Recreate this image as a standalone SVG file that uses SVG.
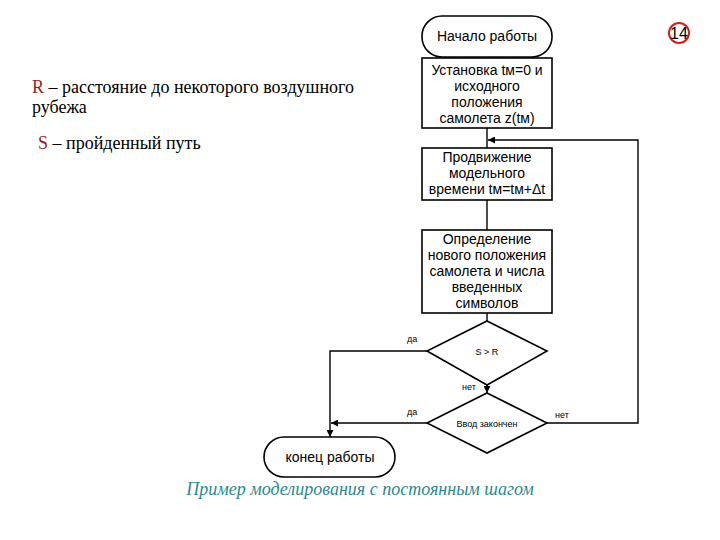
<svg xmlns="http://www.w3.org/2000/svg" width="720" height="540" viewBox="0 0 720 540">
<defs>
<style>
.box{fill:#fff;stroke:#000;stroke-width:1.6}
.t{font-family:"Liberation Sans",Arial,sans-serif;font-size:14px;fill:#000;text-anchor:middle}
.s{font-family:"Liberation Sans",Arial,sans-serif;font-size:9px;fill:#000}
.ln{fill:none;stroke:#000;stroke-width:1.4}
.ser{font-family:"Liberation Serif","Times New Roman",serif;font-size:18px;fill:#000}
.red{fill:#9b1c1c}
</style>
<marker id="ah" viewBox="0 0 10 10" refX="10" refY="5" markerWidth="7" markerHeight="7" orient="auto" markerUnits="userSpaceOnUse">
<path d="M0,0 L10,5 L0,10 z" fill="#000"/>
</marker>
</defs>
<rect width="720" height="540" fill="#fff"/>

<g id="legend">
<text class="ser" x="32" y="93"><tspan class="red">R</tspan> – расстояние до некоторого воздушного</text>
<text class="ser" x="32" y="113">рубежа</text>
<text class="ser" x="38" y="149"><tspan class="red">S</tspan> – пройденный путь</text>
</g>

<g id="pagenum">
<circle cx="679" cy="33" r="10" fill="none" stroke="#d21f1f" stroke-width="2"/>
<text x="679" y="39" font-family="Liberation Sans,Arial,sans-serif" font-size="16" text-anchor="middle" fill="#000">14</text>
</g>

<g id="connectors">
<line class="ln" x1="487" y1="128" x2="487" y2="148"/>
<line class="ln" x1="487" y1="200" x2="487" y2="230"/>
<line class="ln" x1="487" y1="313" x2="487" y2="321"/>
<line class="ln" x1="487" y1="385" x2="487" y2="393" marker-end="url(#ah)"/>
<polyline class="ln" points="427,351 330,351 330,437" marker-end="url(#ah)"/>
<line class="ln" x1="427" y1="423" x2="331" y2="423" marker-end="url(#ah)"/>
<polyline class="ln" points="547,423 638,423 638,140 488,140" marker-end="url(#ah)"/>
<text class="s" x="407" y="342">да</text>
<text class="s" x="407" y="415">да</text>
<text class="s" x="462" y="390">нет</text>
<text class="s" x="555" y="418">нет</text>
</g>

<g id="start">
<rect class="box" x="422" y="16" width="130" height="41" rx="20" ry="20"/>
<text class="t" x="487" y="41">Начало работы</text>
</g>

<g id="init">
<rect class="box" x="422" y="58" width="130" height="70"/>
<text class="t" x="487" y="75">Установка tм=0 и</text>
<text class="t" x="487" y="91">исходного</text>
<text class="t" x="487" y="107">положения</text>
<text class="t" x="487" y="123">самолета z(tм)</text>
</g>

<g id="advance">
<rect class="box" x="422" y="148" width="130" height="52"/>
<text class="t" x="487" y="162">Продвижение</text>
<text class="t" x="487" y="178">модельного</text>
<text class="t" x="487" y="194">времени tм=tм+Δt</text>
</g>

<g id="determine">
<rect class="box" x="422" y="230" width="130" height="83"/>
<text class="t" x="487" y="244">Определение</text>
<text class="t" x="487" y="260">нового положения</text>
<text class="t" x="487" y="276">самолета и числа</text>
<text class="t" x="487" y="292">введенных</text>
<text class="t" x="487" y="308">символов</text>
</g>

<g id="cond1">
<polygon class="box" points="487,321 547,351 487,385 427,351"/>
<text class="s" x="487" y="355" text-anchor="middle">S &gt; R</text>
</g>

<g id="cond2">
<polygon class="box" points="487,393 547,423 487,453 427,423"/>
<text class="s" x="487" y="427" text-anchor="middle">Ввод закончен</text>
</g>

<g id="end">
<rect class="box" x="264" y="437" width="131" height="40" rx="20" ry="20"/>
<text class="t" x="330" y="462">конец работы</text>
</g>

<text id="caption" x="360" y="495" font-family="Liberation Serif,'Times New Roman',serif" font-style="italic" font-size="18" fill="#2b8a8e" text-anchor="middle">Пример моделирования с постоянным шагом</text>
</svg>
